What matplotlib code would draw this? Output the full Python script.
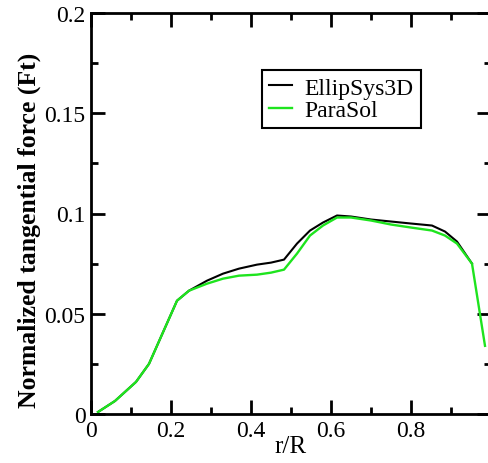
import matplotlib
matplotlib.use("Agg")
import matplotlib.pyplot as plt
from matplotlib.ticker import MultipleLocator

plt.rcParams['font.family'] = ['Liberation Serif', 'DejaVu Serif']

# Radial stations r/R and normalized tangential force
r_ellipsys = [0.0175, 0.06, 0.1125, 0.145, 0.215, 0.245, 0.29, 0.33, 0.37, 0.415,
              0.45, 0.4825, 0.515, 0.5475, 0.58, 0.615, 0.65, 0.70, 0.75, 0.80,
              0.8525, 0.885, 0.915, 0.9525]
ft_ellipsys = [0.001, 0.0065, 0.016, 0.025, 0.0565, 0.0615, 0.0665, 0.070, 0.0725, 0.0745,
               0.0755, 0.077, 0.085, 0.0915, 0.0955, 0.099, 0.0985, 0.097, 0.096, 0.095,
               0.094, 0.091, 0.086, 0.075]

r_parasol = [0.0175, 0.06, 0.1125, 0.145, 0.215, 0.245, 0.29, 0.33, 0.37, 0.415,
             0.45, 0.4825, 0.515, 0.5475, 0.58, 0.615, 0.65, 0.70, 0.75, 0.80,
             0.8525, 0.885, 0.915, 0.9525, 0.985]
ft_parasol = [0.001, 0.0065, 0.016, 0.025, 0.0565, 0.0615, 0.065, 0.0675, 0.069, 0.0695,
              0.0705, 0.072, 0.080, 0.089, 0.094, 0.098, 0.098, 0.0965, 0.0945, 0.093,
              0.0915, 0.089, 0.085, 0.075, 0.034]

x_ticks = [0, 0.2, 0.4, 0.6, 0.8]
x_labels = ["0", "0.2", "0.4", "0.6", "0.8"]
y_ticks = [0, 0.05, 0.1, 0.15, 0.2]
y_labels = ["0", "0.05", "0.1", "0.15", "0.2"]

W, H = 489, 464
fig = plt.figure(figsize=(W / 100, H / 100), dpi=100)
left, right, top, bottom = 91, 491, 14, 415
ax = fig.add_axes([left / W, (H - bottom) / H, (right - left) / W, (bottom - top) / H])

ax.plot(r_ellipsys, ft_ellipsys, color='black', lw=1.5, label='EllipSys3D')
ax.plot(r_parasol, ft_parasol, color='#1ee41e', lw=1.7, label='ParaSol')

ax.set_xlim(0, 1)
ax.set_ylim(0, 0.2)
ax.set_xticks(x_ticks)
ax.set_xticklabels(x_labels)
ax.set_yticks(y_ticks)
ax.set_yticklabels(y_labels)
ax.xaxis.set_minor_locator(MultipleLocator(0.1))
ax.yaxis.set_minor_locator(MultipleLocator(0.025))
ax.tick_params(which='both', direction='in', top=True, right=True, width=2, labelsize=17)
ax.tick_params(which='major', length=10, pad=4)
ax.tick_params(which='minor', length=5)
for s in ax.spines.values():
    s.set_linewidth(2)

ax.set_xlabel('r/R', fontsize=18, labelpad=-4)
ax.set_ylabel('Normalized tangential force (Ft)', fontsize=18.5, fontweight='bold')
ax.yaxis.set_label_coords(-0.125, 0.46)

leg = ax.legend(loc='upper left', bbox_to_anchor=(0.4275, 0.858), fontsize=17,
                frameon=True, fancybox=False, edgecolor='black', framealpha=1,
                handlelength=0.95, handletextpad=0.55, borderpad=0.3,
                labelspacing=0.05, borderaxespad=0)
leg.get_frame().set_linewidth(1.5)

fig.savefig('out.png', dpi=100)
